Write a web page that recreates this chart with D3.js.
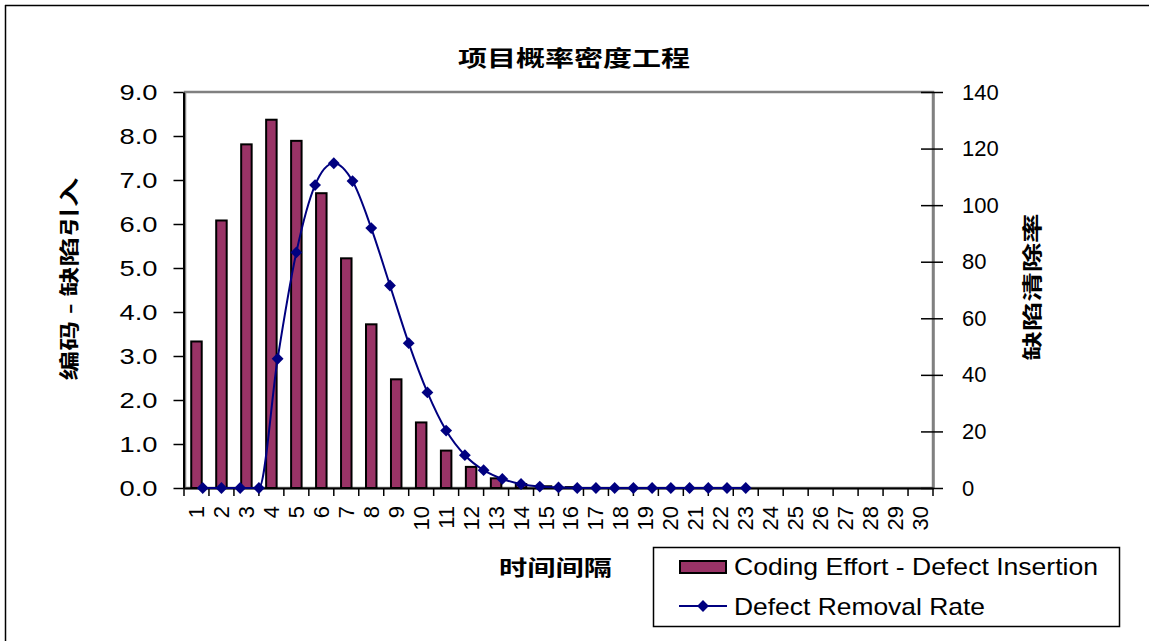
<!DOCTYPE html>
<html>
<head>
<meta charset="utf-8">
<script src="https://cdn.jsdelivr.net/npm/d3@7"></script>
<style>
  html, body { margin: 0; padding: 0; background: #fff; }
  svg { display: block; }
  text { font-family: "Liberation Sans", Arial, sans-serif; }
  .cjk { font-family: "Noto Sans CJK SC", sans-serif; }
</style>
</head>
<body>
<svg id="chart" width="1149" height="641"></svg>
<script>
// ---------- data ----------
const categories = d3.range(1, 31).map(String);
const codingEffort = [3.33, 6.08, 7.81, 8.37, 7.89, 6.70, 5.22, 3.72, 2.47, 1.49,
                      0.85, 0.48, 0.22, 0.09, 0.04, 0.02, 0, 0, 0, 0,
                      0, 0, 0, 0, 0, 0, 0, 0, 0, 0];
const removalRate = [0, 0, 0, 0, 45.7, 83.3, 107.1, 114.8, 108.5, 91.9,
                     71.6, 51.2, 33.8, 20.3, 11.6, 6.3, 3.2, 1.4, 0.5, 0.2,
                     0, 0, 0, 0, 0, 0, 0, 0, 0, 0];
const leftTicks = [0, 1, 2, 3, 4, 5, 6, 7, 8, 9];
const rightTicks = [0, 20, 40, 60, 80, 100, 120, 140];
const title = "项目概率密度工程";
const leftTitle = "编码 - 缺陷引入";
const rightTitle = "缺陷清除率";
const xTitle = "时间间隔";
const legendLabels = ["Coding Effort - Defect Insertion", "Defect Removal Rate"];

// ---------- layout ----------
const P = { left: 184, right: 933, top: 92, bottom: 488 };
const barColor = "#993366", lineColor = "#000080";

const svg = d3.select("#chart");

const x = d3.scaleBand().domain(categories).range([P.left, P.right])
  .paddingInner(0.58).paddingOuter(0.29);
const xEdge = d3.scaleBand().domain(categories).range([P.left, P.right]);
const xLine = d3.scaleLinear().domain([0, 40]).range([P.left, P.right]);
const yL = d3.scaleLinear().domain([0, 9]).range([P.bottom, P.top]);
const yR = d3.scaleLinear().domain([0, 140]).range([P.bottom, P.top]);

// outer border (top & left)
svg.append("line").attr("x1", 5).attr("x2", 1149).attr("y1", 5.5).attr("y2", 5.5)
  .attr("stroke", "#000").attr("stroke-width", 1.5);
svg.append("line").attr("x1", 5.5).attr("x2", 5.5).attr("y1", 5).attr("y2", 641)
  .attr("stroke", "#000").attr("stroke-width", 1.5);

// plot area border (gray)
svg.append("rect").attr("x", P.left + 1).attr("y", P.top)
  .attr("width", P.right - P.left - 1).attr("height", P.bottom - P.top)
  .attr("fill", "none").attr("stroke", "#808080").attr("stroke-width", 2.5);

// bars
svg.append("g").selectAll("rect").data(codingEffort).join("rect")
  .attr("x", (d, i) => x(categories[i]))
  .attr("width", x.bandwidth())
  .attr("y", d => yL(d))
  .attr("height", d => P.bottom - yL(d))
  .attr("fill", barColor).attr("stroke", "#000").attr("stroke-width", 2);

// left axis
const gL = svg.append("g").attr("transform", `translate(${P.left - 0.5},0)`)
  .call(d3.axisLeft(yL).tickValues(leftTicks).tickFormat(d3.format(".1f"))
    .tickSize(10).tickSizeOuter(0).tickPadding(16));
gL.select(".domain").attr("stroke", "#000").attr("stroke-width", 2);
gL.selectAll(".tick line").attr("stroke", "#000").attr("stroke-width", 1.5);
gL.selectAll(".tick text").attr("font-size", 22).attr("fill", "#000")
  .attr("font-family", "'Liberation Sans', Arial, sans-serif")
  .attr("textLength", 38).attr("lengthAdjust", "spacingAndGlyphs");

// right axis
const gR = svg.append("g").attr("transform", `translate(${P.right},0)`)
  .call(d3.axisRight(yR).tickValues(rightTicks).tickSize(10).tickSizeOuter(0).tickPadding(19));
gR.select(".domain").attr("stroke", "#808080").attr("stroke-width", 2.5);
gR.selectAll(".tick line").attr("x1", -12).attr("x2", 10).attr("stroke", "#000").attr("stroke-width", 1.5);
gR.selectAll(".tick text").attr("font-size", 22).attr("fill", "#000")
  .attr("font-family", "'Liberation Sans', Arial, sans-serif");

// x axis
const gX = svg.append("g").attr("transform", `translate(0,${P.bottom})`)
  .call(d3.axisBottom(xEdge).tickValues([]).tickSizeOuter(0));
gX.select(".domain").attr("stroke", "#000").attr("stroke-width", 2);
// boundary ticks
gX.selectAll("line.edge").data(categories.concat(["end"])).join("line")
  .attr("class", "edge")
  .attr("x1", (d, i) => i < 30 ? xEdge(d) : P.right)
  .attr("x2", (d, i) => i < 30 ? xEdge(d) : P.right)
  .attr("y1", 0).attr("y2", 8).attr("stroke", "#000").attr("stroke-width", 1.5);
// labels
gX.selectAll("text.lab").data(categories).join("text")
  .attr("class", "lab")
  .attr("transform", d => `translate(${xEdge(d) + xEdge.bandwidth() / 2 + 7.5},${18}) rotate(-90)`)
  .attr("text-anchor", "end").attr("font-size", 22).attr("fill", "#000")
  .text(d => d);

// line
const lineGen = d3.line()
  .x((d, i) => xLine(i + 1))
  .y(d => yR(d))
  .curve(d3.curveMonotoneX);
svg.append("path").datum(removalRate)
  .attr("d", lineGen).attr("fill", "none")
  .attr("stroke", lineColor).attr("stroke-width", 2);

const diamond = d3.symbol().type(d3.symbolSquare).size(70);
svg.append("g").selectAll("path").data(removalRate).join("path")
  .attr("d", diamond)
  .attr("transform", (d, i) => `translate(${xLine(i + 1)},${yR(d)}) rotate(45)`)
  .attr("fill", lineColor);

// titles
svg.append("text").attr("class", "cjk").attr("x", 574).attr("y", 66)
  .attr("text-anchor", "middle").attr("font-size", 22).attr("font-weight", "bold")
  .attr("textLength", 232).attr("lengthAdjust", "spacingAndGlyphs").text(title);

svg.append("text").attr("class", "cjk")
  .attr("transform", "translate(77,279) rotate(-90)")
  .attr("text-anchor", "middle").attr("font-size", 20).attr("font-weight", "bold")
  .attr("textLength", 203).attr("lengthAdjust", "spacingAndGlyphs").text(leftTitle);

svg.append("text").attr("class", "cjk")
  .attr("transform", "translate(1040,287) rotate(-90)")
  .attr("text-anchor", "middle").attr("font-size", 20).attr("font-weight", "bold")
  .attr("textLength", 147).attr("lengthAdjust", "spacingAndGlyphs").text(rightTitle);

svg.append("text").attr("class", "cjk").attr("x", 555.5).attr("y", 575)
  .attr("text-anchor", "middle").attr("font-size", 21).attr("font-weight", "bold")
  .attr("textLength", 113).attr("lengthAdjust", "spacingAndGlyphs").text(xTitle);

// legend
const lg = svg.append("g");
lg.append("rect").attr("x", 653.5).attr("y", 547.5).attr("width", 466).attr("height", 79)
  .attr("fill", "#fff").attr("stroke", "#000").attr("stroke-width", 1.5);
lg.append("rect").attr("x", 680).attr("y", 561).attr("width", 46).attr("height", 12)
  .attr("fill", barColor).attr("stroke", "#000").attr("stroke-width", 2);
lg.append("text").attr("x", 734).attr("y", 575).attr("font-size", 24)
  .attr("textLength", 364).attr("lengthAdjust", "spacingAndGlyphs").text(legendLabels[0]);
lg.append("line").attr("x1", 679).attr("x2", 727).attr("y1", 606).attr("y2", 606)
  .attr("stroke", lineColor).attr("stroke-width", 2);
lg.append("path").attr("d", diamond).attr("transform", "translate(703,606) rotate(45)")
  .attr("fill", lineColor);
lg.append("text").attr("x", 734).attr("y", 615).attr("font-size", 24)
  .attr("textLength", 251).attr("lengthAdjust", "spacingAndGlyphs").text(legendLabels[1]);
</script>
</body>
</html>
